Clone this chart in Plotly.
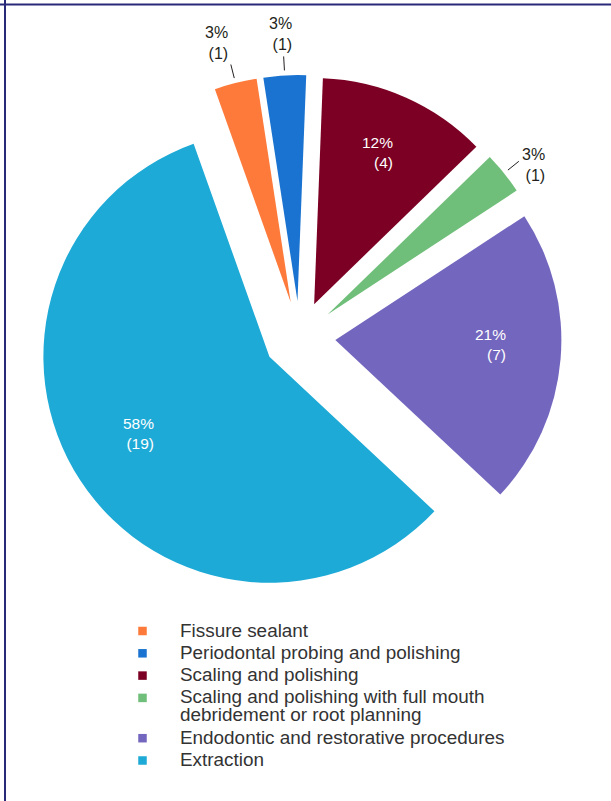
import math
import plotly.graph_objects as go

# Treatment categories and patient counts
categories = [
    "Fissure sealant",
    "Periodontal probing and polishing",
    "Scaling and polishing",
    "Scaling and polishing with full mouth debridement or root planning",
    "Endodontic and restorative procedures",
    "Extraction",
]
legend_lines = [
    ["Fissure sealant"],
    ["Periodontal probing and polishing"],
    ["Scaling and polishing"],
    ["Scaling and polishing with full mouth", "debridement or root planning"],
    ["Endodontic and restorative procedures"],
    ["Extraction"],
]
counts = [1, 1, 4, 1, 7, 19]
colors = ["#fe7a3a", "#1a73d0", "#7b0023", "#6fbe79", "#7366be", "#1eaad6"]
label_inside = [False, False, True, False, True, True]

W, H = 611, 801
FONT = "Liberation Sans, Arial, Helvetica, sans-serif"
ROTATION = -19.6
PULL = 0.159
DOMAIN_X = [0.0614, 0.9190]
DOMAIN_Y = [0.2522, 0.9064]

fig = go.Figure(
    go.Pie(
        labels=categories,
        values=counts,
        sort=False,
        direction="clockwise",
        rotation=ROTATION,
        pull=[PULL] * len(counts),
        marker=dict(colors=colors, line=dict(width=0)),
        textinfo="none",
        hoverinfo="label+value+percent",
        showlegend=False,
        domain=dict(x=DOMAIN_X, y=DOMAIN_Y),
    )
)

# Pie geometry in pixels (same rule plotly uses to size a pulled pie)
dx0, dx1 = DOMAIN_X[0] * W, DOMAIN_X[1] * W
dy0, dy1 = (1 - DOMAIN_Y[1]) * H, (1 - DOMAIN_Y[0]) * H
cx, cy = (dx0 + dx1) / 2, (dy0 + dy1) / 2
radius = min(dx1 - dx0, dy1 - dy0) / (2 * (1 + PULL))


def to_paper(px, py):
    return px / W, 1 - py / H


total = sum(counts)
annotations = []
shapes = []
cum = 0
for value, inside in zip(counts, label_inside):
    mid = math.radians(ROTATION + 360 * (cum + value / 2) / total)
    cum += value
    ux, uy = math.sin(mid), -math.cos(mid)
    ax_, ay_ = cx + PULL * radius * ux, cy + PULL * radius * uy
    pct = round(100 * value / total)
    text = f"{pct}%<br>({value})"
    if inside:
        k = 0.69 * radius
        x, y = to_paper(ax_ + k * ux, ay_ + k * uy - 9)
        annotations.append(dict(
            x=x, y=y, xref="paper", yref="paper", text=text, showarrow=False,
            xanchor="center", yanchor="middle", align="right",
            font=dict(family=FONT, size=15.5, color="white"),
        ))
    else:
        # short leader tick just outside the slice, value label beyond it
        r0, r1 = radius + 5, radius + 19
        sx0, sy0 = ax_ + r0 * ux, ay_ + r0 * uy
        sx1, sy1 = ax_ + r1 * ux, ay_ + r1 * uy
        p0, p1 = to_paper(sx0, sy0), to_paper(sx1, sy1)
        shapes.append(dict(type="line", xref="paper", yref="paper",
                           x0=p0[0], y0=p0[1], x1=p1[0], y1=p1[1],
                           line=dict(color="#231f20", width=1)))
        if abs(ux) > 0.5:
            tx, ty = sx1 + 2 * ux, sy1 + 2 * uy + 5
            xanchor, yanchor = ("left" if ux > 0 else "right"), "middle"
        else:
            tx, ty = sx1 + 60 * ux, sy1 - 1
            xanchor, yanchor = "center", "bottom" if uy < 0 else "top"
        x, y = to_paper(tx, ty)
        annotations.append(dict(
            x=x, y=y, xref="paper", yref="paper", text=text, showarrow=False,
            xanchor=xanchor, yanchor=yanchor, align="right",
            font=dict(family=FONT, size=16, color="#231f20"),
        ))

# Legend: colour square plus category name, one row per line of text
LEG_SQUARE_X = 142.5
LEG_TEXT_X = 177.5
LEG_TOP = 631
ITEM_STEP = 22.3
LINE_STEP = 18
SQ = 8.5
row_y = LEG_TOP
for color, lines in zip(colors, legend_lines):
    sx, sy = to_paper(LEG_SQUARE_X - SQ / 2, row_y - SQ / 2)
    ex, ey = to_paper(LEG_SQUARE_X + SQ / 2, row_y + SQ / 2)
    shapes.append(dict(type="rect", xref="paper", yref="paper",
                       x0=sx, y0=ey, x1=ex, y1=sy,
                       fillcolor=color, line=dict(width=0)))
    for j, line in enumerate(lines):
        lx, ly = to_paper(LEG_TEXT_X, row_y - 1 + j * LINE_STEP)
        annotations.append(dict(
            x=lx, y=ly, xref="paper", yref="paper", text=line, showarrow=False,
            xanchor="left", yanchor="middle",
            font=dict(family=FONT, size=18.9, color="#333333"),
        ))
    row_y += ITEM_STEP + LINE_STEP * (len(lines) - 1)

# Frame lines along the top and left edges
fx, fy = to_paper(5, 4.5)
shapes.append(dict(type="line", xref="paper", yref="paper", x0=0, x1=1, y0=fy, y1=fy,
                   line=dict(color="#29297a", width=2)))
shapes.append(dict(type="line", xref="paper", yref="paper", x0=fx, x1=fx, y0=0, y1=1,
                   line=dict(color="#29297a", width=2)))

fig.update_layout(
    width=W,
    height=H,
    margin=dict(l=0, r=0, t=0, b=0, autoexpand=False),
    paper_bgcolor="white",
    showlegend=False,
    annotations=annotations,
    shapes=shapes,
)

fig.write_html("out.html")
